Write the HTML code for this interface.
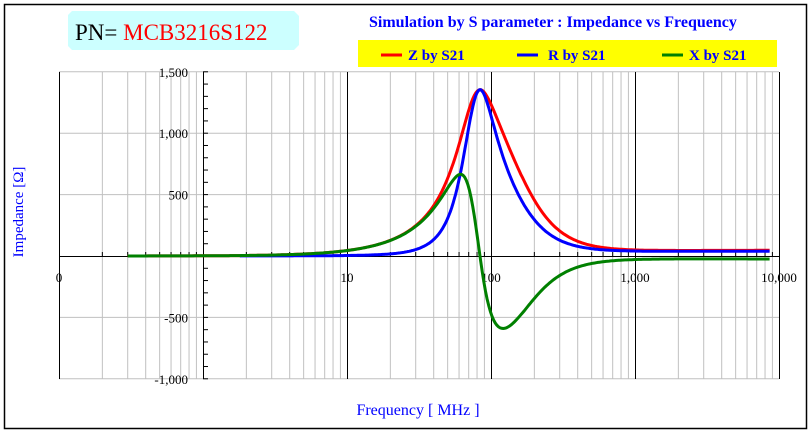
<!DOCTYPE html><html><head><meta charset="utf-8"><style>
body{margin:0;background:#fff;}
svg{display:block;font-family:"Liberation Serif",serif;}
</style></head><body>
<svg id="s" width="811" height="432" xmlns="http://www.w3.org/2000/svg">
<rect x="4.5" y="4.5" width="802" height="424" fill="#fff" stroke="#000" stroke-width="1.5"/>
<path d="M72 11 H294 L299 16 V45 L294 50 H72 L68 46 V15 Z" fill="#ccffff"/>
<text x="75" y="40" font-size="23" fill="#000">PN= <tspan fill="#ff0000">MCB3216S122</tspan></text>
<text x="369" y="27" font-size="16" font-weight="bold" fill="#0000ff">Simulation by S parameter : Impedance vs Frequency</text>
<rect x="358" y="40" width="419" height="27" fill="#ffff00"/>
<line x1="381" y1="55" x2="402" y2="55" stroke="#ff0000" stroke-width="3"/>
<text x="408" y="60" font-size="15" font-weight="bold" fill="#0000ff">Z by S21</text>
<line x1="517" y1="55" x2="538" y2="55" stroke="#0000ff" stroke-width="3"/>
<text x="548" y="60" font-size="15" font-weight="bold" fill="#0000ff">R by S21</text>
<line x1="662" y1="55" x2="683" y2="55" stroke="#008000" stroke-width="3"/>
<text x="689" y="60" font-size="15" font-weight="bold" fill="#0000ff">X by S21</text>
<g id="grid"></g>
<text transform="translate(23,212) rotate(-90)" text-anchor="middle" font-size="15" fill="#0000ff">Impedance [Ω]</text>
<text x="418" y="415" text-anchor="middle" font-size="16" fill="#0000ff">Frequency [ MHz ]</text>
</svg>
<script>
var ns="http://www.w3.org/2000/svg",g=document.getElementById('grid');
function el(t,a,txt){var e=document.createElementNS(ns,t);for(var k in a)e.setAttribute(k,a[k]);if(txt)e.textContent=txt;g.appendChild(e);return e;}
function X(f){return 59+144*(Math.log10(f)+1);}
function Y(v){return 256-v*0.1228;}
for(var d=-1;d<4;d++)for(var m=2;m<10;m++){var x=X(m*Math.pow(10,d));el('line',{x1:x,y1:72,x2:x,y2:379,stroke:'#c0c0c0','stroke-width':1});}
[1500,1000,500,-500,-1000].forEach(function(v){el('line',{x1:59,y1:Y(v),x2:779,y2:Y(v),stroke:'#c0c0c0','stroke-width':1});});
[0.1,10,100,1000,10000].forEach(function(f){var x=Math.round(X(f))+0.5;el('line',{x1:x,y1:72,x2:x,y2:379,stroke:'#000','stroke-width':1});});
el('line',{x1:59,y1:256.5,x2:779,y2:256.5,stroke:'#000','stroke-width':1});
el('line',{x1:203.5,y1:72,x2:203.5,y2:379,stroke:'#000','stroke-width':1});
for(var v=-1000;v<=1500;v+=100){el('line',{x1:203,y1:Y(v),x2:208,y2:Y(v),stroke:'#000'});}
for(var d=-1;d<4;d++)for(var m=2;m<10;m++){var x=X(m*Math.pow(10,d));el('line',{x1:x,y1:256,x2:x,y2:252,stroke:'#000'});}
[['1,500',1500],['1,000',1000],['500',500],['-500',-500],['-1,000',-1000]].forEach(function(a){el('text',{x:188,y:Y(a[1])+5,'text-anchor':'end','font-size':13},a[0]);});
[['0',0.1],['10',10],['100',100],['1,000',1000],['10,000',10000]].forEach(function(a){el('text',{x:X(a[1]),y:282,'text-anchor':'middle','font-size':13},a[0]);});
var f0=84;
function calc(f){var u=f/f0,Q,Rp;
 if(u<1){Q=1.37*Math.pow(u,-0.45);Rp=1340;}else{Q=1.37*Math.pow(u,-0.9);Rp=1340/(1+0.5*(u-1)*(u-1));}
 var q=Q*(u-1/u),den=1+q*q;var R=Rp/den,Xv=-Rp*q/den;R+=40*f/(f+150);Xv+=-25*f/(f+300);return [R,Xv];}
function path(fs,fe,k,col){var p='';for(var i=0;i<=400;i++){var lf=Math.log10(fs)+(Math.log10(fe)-Math.log10(fs))*i/400,f=Math.pow(10,lf),c=calc(f),v=k==0?Math.hypot(c[0],c[1]):(k==1?c[0]:c[1]);p+=(i?'L':'M')+X(f).toFixed(1)+' '+Y(v).toFixed(1);}el('path',{d:p,fill:'none',stroke:col,'stroke-width':3});}
path(0.3,8600,0,'#ff0000');
path(1.8,8600,1,'#0000ff');
path(0.3,8600,2,'#008000');
</script>
</body></html>
